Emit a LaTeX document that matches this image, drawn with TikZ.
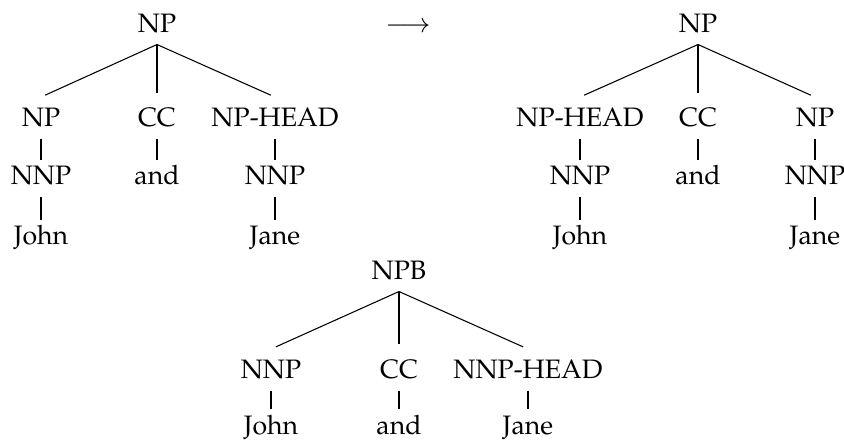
\documentclass[tikz,border=0pt]{standalone}
\usepackage[T1]{fontenc}
\usepackage{mathpazo}
\begin{document}
\begin{tikzpicture}[x=0.375pt,y=-0.375pt,
  lbl/.style={anchor=base, inner xsep=0pt, inner ysep=4.125pt, text height=6.9pt, text depth=0pt, font=\fontsize{10}{12}\selectfont},
  redge/.style={line width=0.4pt, shorten >=1.7pt},
  rvedge/.style={line width=0.75pt, shorten >=1.7pt},
  vedge/.style={line width=0.75pt, shorten >=-2pt}]
\useasboundingbox (0,0) rectangle (844,440);
% left tree
\node[lbl] (lr) at (157,33) {NP};
\node[lbl] (la) at (41,127) {NP};
\node[lbl] (lb) at (157,127) {CC};
\node[lbl] (lc) at (275,127) {NP-HEAD};
\node[lbl] (la2) at (41,185) {NNP};
\node[lbl] (lb2) at (157,185) {and};
\node[lbl] (lc2) at (275,185) {NNP};
\node[lbl] (la3) at (41,245) {John};
\node[lbl] (lc3) at (275,245) {Jane};
\draw[redge] (lr.south) -- (la.north);
\draw[rvedge] (lr.south) -- (lb.north);
\draw[redge] (lr.south) -- (lc.north);
\draw[vedge] (la.south) -- (la2.north);
\draw[vedge] (lb.south) -- (lb2.north);
\draw[vedge] (lc.south) -- (lc2.north);
\draw[vedge] (la2.south) -- (la3.north);
\draw[vedge] (lc2.south) -- (lc3.north);
% arrow
\node[lbl, inner ysep=0pt] (arr) at (408,33) {$\longrightarrow$};
% right tree
\node[lbl] (rr) at (698,33) {NP};
\node[lbl] (ra) at (580,127) {NP-HEAD};
\node[lbl] (rb) at (698,127) {CC};
\node[lbl] (rc) at (815,127) {NP};
\node[lbl] (ra2) at (580,185) {NNP};
\node[lbl] (rb2) at (698,185) {and};
\node[lbl] (rc2) at (815,185) {NNP};
\node[lbl] (ra3) at (580,245) {John};
\node[lbl] (rc3) at (815,245) {Jane};
\draw[redge] (rr.south) -- (ra.north);
\draw[rvedge] (rr.south) -- (rb.north);
\draw[redge] (rr.south) -- (rc.north);
\draw[vedge] (ra.south) -- (ra2.north);
\draw[vedge] (rb.south) -- (rb2.north);
\draw[vedge] (rc.south) -- (rc2.north);
\draw[vedge] (ra2.south) -- (ra3.north);
\draw[vedge] (rc2.south) -- (rc3.north);
% bottom tree
\node[lbl] (br) at (399,280) {NPB};
\node[lbl] (ba) at (271,379) {NNP};
\node[lbl] (bb) at (399,379) {CC};
\node[lbl] (bc) at (528,379) {NNP-HEAD};
\node[lbl] (ba2) at (271,435) {John};
\node[lbl] (bb2) at (399,435) {and};
\node[lbl] (bc2) at (528,435) {Jane};
\draw[redge, shorten >=2pt] (br.south) -- (ba.north);
\draw[rvedge, shorten >=2pt] (br.south) -- (bb.north);
\draw[redge, shorten >=2pt] (br.south) -- (bc.north);
\draw[vedge, shorten >=-1.6pt] (ba.south) -- (ba2.north);
\draw[vedge, shorten >=-1.6pt] (bb.south) -- (bb2.north);
\draw[vedge, shorten >=-1.6pt] (bc.south) -- (bc2.north);
\end{tikzpicture}
\end{document}
